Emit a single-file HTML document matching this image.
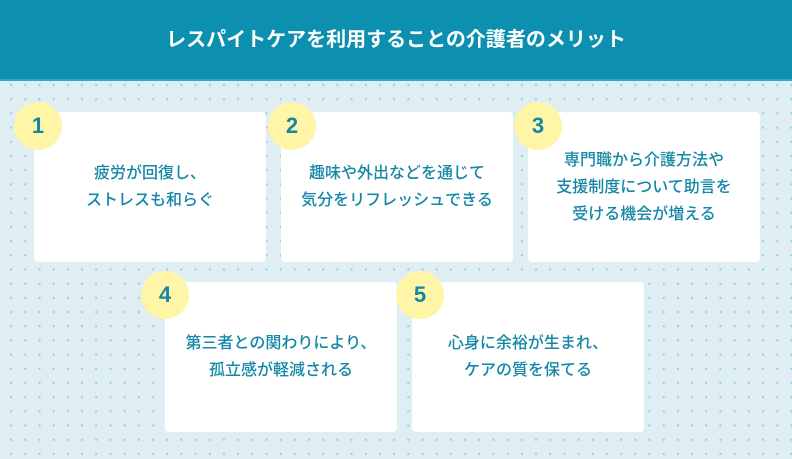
<!DOCTYPE html>
<html><head><meta charset="utf-8"><style>
body{margin:0;width:792px;height:459px;overflow:hidden;font-family:"Liberation Sans","Noto Sans CJK JP",sans-serif;
background-color:#dfeef3;background-image:radial-gradient(circle,#9fcfdc 1px,transparent 1.3px);background-size:14.2px 14.2px;background-position:4px 7px;position:relative}
.h{position:absolute;left:0;top:0;width:792px;height:81px;background:#0d8fb0;color:#fff;font-size:20px;font-weight:bold;text-align:center;line-height:81px;border-bottom:2px solid #3aa6c2;box-sizing:border-box}
.c{position:absolute;width:232px;height:150px;background:#fff;border-radius:4px;display:flex;align-items:center;justify-content:center;text-align:center;color:#1487a6;font-size:16px;line-height:27px;font-weight:500}
.n{position:absolute;width:48px;height:48px;border-radius:50%;background:#fff5a6;color:#1487a6;font-size:22px;font-weight:bold;text-align:center;line-height:48px}
</style></head><body>
<div class="h">レスパイトケアを利用することの介護者のメリット</div>
<div class="c" style="left:34px;top:112px">疲労が回復し、<br>ストレスも和らぐ</div>
<div class="c" style="left:281px;top:112px">趣味や外出などを通じて<br>気分をリフレッシュできる</div>
<div class="c" style="left:528px;top:112px">専門職から介護方法や<br>支援制度について助言を<br>受ける機会が増える</div>
<div class="c" style="left:165px;top:282px">第三者との関わりにより、<br>孤立感が軽減される</div>
<div class="c" style="left:412px;top:282px">心身に余裕が生まれ、<br>ケアの質を保てる</div>
<div class="n" style="left:14px;top:102px">1</div>
<div class="n" style="left:268px;top:102px">2</div>
<div class="n" style="left:514px;top:102px">3</div>
<div class="n" style="left:141px;top:271px">4</div>
<div class="n" style="left:396px;top:271px">5</div>
</body></html>
